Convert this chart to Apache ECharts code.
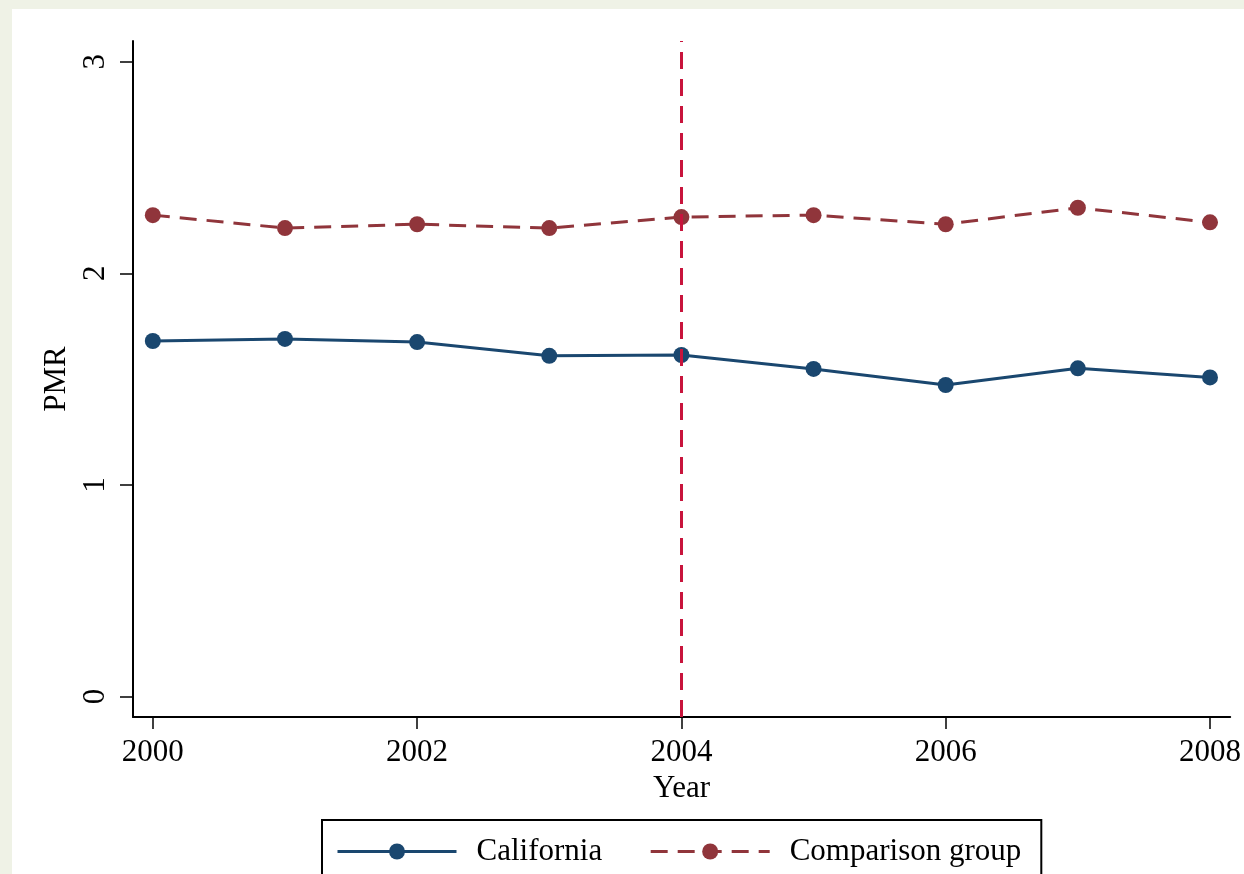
<!DOCTYPE html>
<html>
<head>
<meta charset="utf-8">
<script src="https://cdn.jsdelivr.net/npm/echarts@6/dist/echarts.min.js"></script>
<style>
  html, body { margin: 0; padding: 0; background: #eff2e6; width: 1244px; height: 874px; overflow: hidden; }
  #main { position: absolute; left: 12px; top: 9px; width: 1232px; height: 865px; background: #fff; }
</style>
</head>
<body>
<div id="main"></div>
<script>
const years = [2000, 2001, 2002, 2003, 2004, 2005, 2006, 2007, 2008];
const california = [1.68, 1.69, 1.675, 1.61, 1.614, 1.548, 1.472, 1.551, 1.508];
const comparison = [2.275, 2.214, 2.232, 2.214, 2.266, 2.275, 2.232, 2.31, 2.241];
const xTicks = [2000, 2002, 2004, 2006, 2008];
const yTicks = [0, 1, 2, 3];
const policyYear = 2004;

const chart = echarts.init(document.getElementById('main'));
const font = 'Liberation Serif';

chart.setOption({
  animation: false,
  backgroundColor: 'transparent',
  textStyle: { fontFamily: font, color: '#000' },
  grid: { left: 121, right: 12, top: 32, bottom: 157 },
  legend: {
    left: 310, top: 811,
    padding: [16, 20, 20, 14],
    borderColor: '#000', borderWidth: 2,
    itemWidth: 119, itemHeight: 20, itemGap: 47,
    lineStyle: { width: 3 },
    textStyle: { fontFamily: font, fontSize: 31, color: '#000', padding: [0, 0, 0, 15] },
    data: ['California', 'Comparison group']
  },
  xAxis: {
    type: 'value', min: 1999.85, max: 2008.153,
    name: 'Year', nameLocation: 'middle', nameGap: 52,
    nameTextStyle: { fontFamily: font, fontSize: 31, color: '#000' },
    axisLine: { onZero: false, lineStyle: { color: '#000', width: 2 } },
    axisTick: { customValues: xTicks, length: 12, lineStyle: { color: '#000', width: 1.5 } },
    axisLabel: { customValues: xTicks, formatter: v => String(v), fontFamily: font, fontSize: 31, color: '#000', margin: 20 },
    splitLine: { show: false }
  },
  yAxis: {
    type: 'value', min: -0.097, max: 3.098,
    name: 'PMR', nameLocation: 'middle', nameGap: 56,
    nameTextStyle: { fontFamily: font, fontSize: 31, color: '#000' },
    axisLine: { show: true, onZero: false, lineStyle: { color: '#000', width: 2 } },
    axisTick: { show: true, customValues: yTicks, length: 13, lineStyle: { color: '#000', width: 1.5 } },
    axisLabel: { customValues: yTicks, formatter: v => String(v), rotate: 90, fontFamily: font, fontSize: 31, color: '#000', margin: 22 },
    splitLine: { show: false }
  },
  series: [
    {
      name: 'California', type: 'line',
      data: years.map((y, i) => [y, california[i]]),
      symbol: 'circle', symbolSize: 16,
      itemStyle: { color: '#1a476f' },
      lineStyle: { color: '#1a476f', width: 3 },
      markLine: {
        silent: true, symbol: 'none', label: { show: false },
        lineStyle: { color: '#c8143c', width: 3, type: [17, 10] },
        data: [{ xAxis: policyYear }]
      }
    },
    {
      name: 'Comparison group', type: 'line',
      data: years.map((y, i) => [y, comparison[i]]),
      symbol: 'circle', symbolSize: 16,
      itemStyle: { color: '#90353b' },
      lineStyle: { color: '#90353b', width: 3, type: [17, 10] }
    }
  ]
});
</script>
</body>
</html>
